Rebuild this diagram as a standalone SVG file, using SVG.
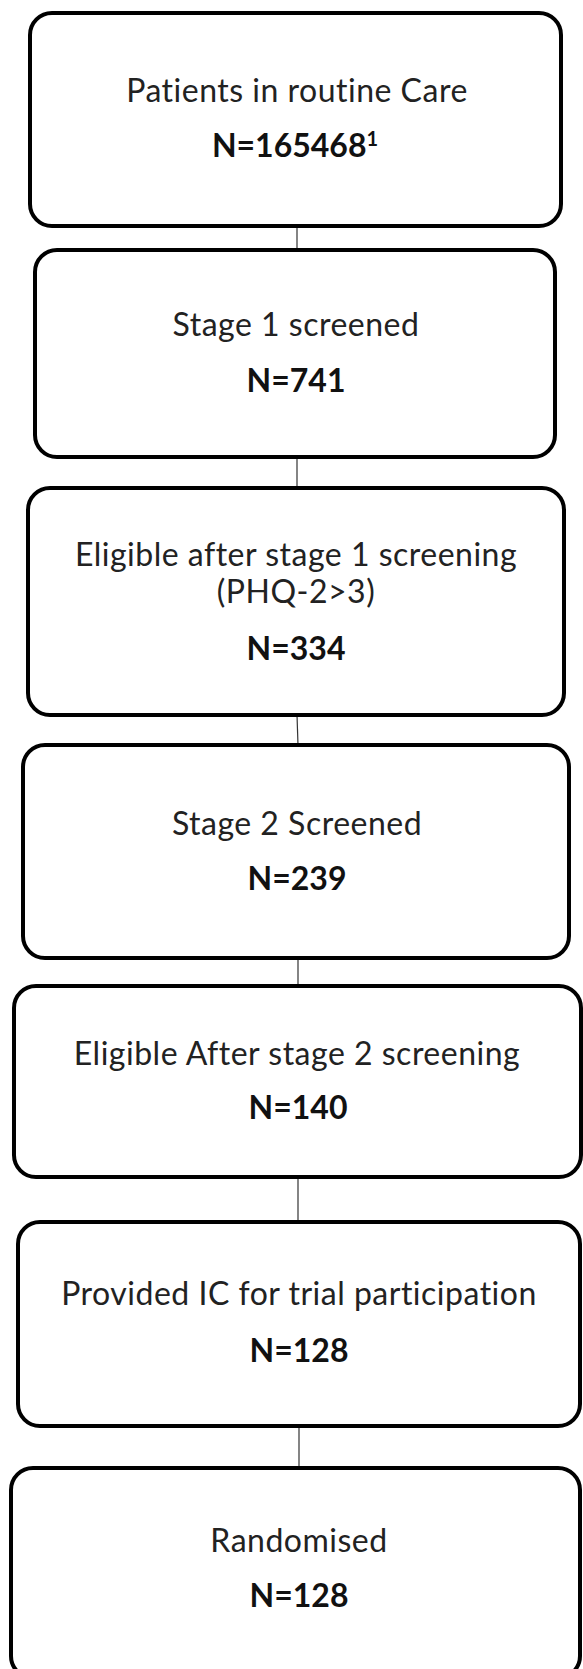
<svg xmlns="http://www.w3.org/2000/svg" width="583" height="1669" viewBox="0 0 583 1669">
<style>
.box{fill:#fff;stroke:#000;stroke-width:4}
.t{font-family:Lato,"Liberation Sans",sans-serif;font-size:32px;letter-spacing:0.5px;fill:#222;text-anchor:middle}
.b{font-family:Lato,"Liberation Sans",sans-serif;font-size:32px;font-weight:bold;fill:#111;text-anchor:middle}
.c{stroke:#333;stroke-width:1.2;fill:none}
</style>
<rect width="583" height="1669" fill="#fff"/>
<g id="connectors">
<line class="c" x1="297" y1="226" x2="297" y2="250"/>
<line class="c" x1="297" y1="457" x2="297" y2="488"/>
<line class="c" x1="297" y1="715" x2="298" y2="745"/>
<line class="c" x1="298" y1="958" x2="298" y2="986"/>
<line class="c" x1="298" y1="1177" x2="298" y2="1222"/>
<line class="c" x1="299" y1="1426" x2="299" y2="1468"/>
</g>
<g id="n1">
<rect class="box" x="30" y="13" width="531" height="213" rx="22"/>
<text class="t" x="297" y="102">Patients in routine Care</text>
<text class="b" x="295" y="157">N=165468<tspan font-size="20" dy="-11">1</tspan></text>
</g>
<g id="n2">
<rect class="box" x="35" y="250" width="520" height="207" rx="22"/>
<text class="t" x="296" y="336">Stage 1 screened</text>
<text class="b" x="296" y="392">N=741</text>
</g>
<g id="n3">
<rect class="box" x="28" y="488" width="536" height="227" rx="22"/>
<text class="t" x="296" y="566">Eligible after stage 1 screening</text>
<text class="t" x="296" y="603">(PHQ-2&gt;3)</text>
<text class="b" x="296" y="660">N=334</text>
</g>
<g id="n4">
<rect class="box" x="23" y="745" width="546" height="213" rx="22"/>
<text class="t" x="297" y="835">Stage 2 Screened</text>
<text class="b" x="297" y="890">N=239</text>
</g>
<g id="n5">
<rect class="box" x="14" y="986" width="567" height="191" rx="22"/>
<text class="t" x="297" y="1065">Eligible After stage 2 screening</text>
<text class="b" x="298" y="1119">N=140</text>
</g>
<g id="n6">
<rect class="box" x="18" y="1222" width="562" height="204" rx="22"/>
<text class="t" x="299" y="1305">Provided IC for trial participation</text>
<text class="b" x="299" y="1362">N=128</text>
</g>
<g id="n7">
<rect class="box" x="11" y="1468" width="569" height="210" rx="22"/>
<text class="t" x="299" y="1552">Randomised</text>
<text class="b" x="299" y="1607">N=128</text>
</g>
</svg>
